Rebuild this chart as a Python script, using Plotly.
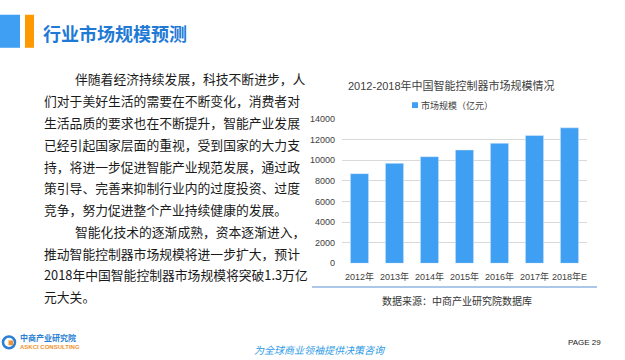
import plotly.graph_objects as go

W, H = 625, 360

years = ["2012年", "2013年", "2014年", "2015年", "2016年", "2017年", "2018年E"]
market_size = [8700, 9700, 10350, 11000, 11650, 12400, 13150]
y_ticks = [0, 2000, 4000, 6000, 8000, 10000, 12000, 14000]

page_title = "行业市场规模预测"
chart_title = "2012-2018年中国智能控制器市场规模情况"
series_name = "市场规模（亿元）"
source_text = "数据来源：中商产业研究院数据库"
body_lines = [
    "伴随着经济持续发展，科技不断进步，人",
    "们对于美好生活的需要在不断变化，消费者对",
    "生活品质的要求也在不断提升，智能产业发展",
    "已经引起国家层面的重视，受到国家的大力支",
    "持，将进一步促进智能产业规范发展，通过政",
    "策引导、完善来抑制行业内的过度投资、过度",
    "竞争，努力促进整个产业持续健康的发展。",
    "智能化技术的逐渐成熟，资本逐渐进入，",
    "推动智能控制器市场规模将进一步扩大，预计",
    "2018年中国智能控制器市场规模将突破1.3万亿",
    "元大关。",
]
body_indent = [True, False, False, False, False, False, False, True, False, False, False]
slogan = "为全球商业领袖提供决策咨询"
page_no = "PAGE 29"

def px(x):
    return x / W

def py(y):
    return 1 - y / H

BLUE = "#3f9ff2"
CJK = "Noto Sans CJK SC"

fig = go.Figure()
fig.add_trace(go.Bar(
    x=years, y=market_size, name=series_name,
    marker=dict(color=BLUE), width=0.52, showlegend=False,
))

fig.update_layout(
    width=W, height=H,
    margin=dict(l=0, r=0, t=0, b=0),
    paper_bgcolor="white", plot_bgcolor="white",
    xaxis=dict(
        domain=[px(342), px(587)],
        tickfont=dict(family="Liberation Sans, " + CJK, size=9, color="#404040"),
        showgrid=False, showline=False, ticks="", ticklabelstandoff=7,
    ),
    yaxis=dict(
        domain=[py(265.7), py(117.3)],
        range=[0, 14000], tickvals=y_ticks, tickformat="d",
        tickfont=dict(family="Liberation Sans", size=9, color="#404040"),
        gridcolor="#d9d9d9", gridwidth=1, zeroline=False,
        showline=False, ticks="", ticklabelstandoff=6,
    ),
    showlegend=False,
    bargap=0.48,
)

anns = []
# page title
anns.append(dict(text="<b>" + page_title + "</b>", x=px(41), y=py(29), xref="paper", yref="paper",
                 xanchor="left", yanchor="middle", showarrow=False,
                 font=dict(family=CJK, size=18, color="#1f7ad6")))
# chart title
anns.append(dict(text=chart_title, x=px(452), y=py(83), xref="paper", yref="paper",
                 xanchor="center", yanchor="middle", showarrow=False,
                 font=dict(family="Liberation Sans, " + CJK, size=11, color="#404040")))
# legend text
anns.append(dict(text=series_name, x=px(419), y=py(103), xref="paper", yref="paper",
                 xanchor="left", yanchor="middle", showarrow=False,
                 font=dict(family=CJK, size=9, color="#404040")))
# source
anns.append(dict(text=source_text, x=px(457), y=py(304), xref="paper", yref="paper",
                 xanchor="center", yanchor="middle", showarrow=False,
                 font=dict(family=CJK, size=10, color="#333333")))
# body text
line_y0, line_dy = 76, 22.4
for i, (line, ind) in enumerate(zip(body_lines, body_indent)):
    anns.append(dict(text=line, x=px(73 if ind else 42), y=py(line_y0 + i * line_dy),
                     xref="paper", yref="paper", xanchor="left", yanchor="middle",
                     showarrow=False,
                     font=dict(family=CJK, size=12.8, color="#1a1a1a")))
# footer
anns.append(dict(text="<b>中商产业研究院</b>", x=px(18), y=py(342), xref="paper", yref="paper",
                 xanchor="left", yanchor="middle", showarrow=False,
                 font=dict(family=CJK, size=8, color="#2a7fd4")))
anns.append(dict(text="<b>ASKCI CONSULTING</b>", x=px(18), y=py(352), xref="paper", yref="paper",
                 xanchor="left", yanchor="middle", showarrow=False,
                 font=dict(family="Liberation Sans", size=6, color="#f0922c")))
anns.append(dict(text="<i>" + slogan + "</i>", x=px(320), y=py(354), xref="paper", yref="paper",
                 xanchor="center", yanchor="middle", showarrow=False,
                 font=dict(family=CJK, size=10, color="#2e9be6")))
anns.append(dict(text=page_no, x=px(603), y=py(347), xref="paper", yref="paper",
                 xanchor="right", yanchor="middle", showarrow=False,
                 font=dict(family="Liberation Sans", size=8, color="#222222")))

shapes = [
    dict(type="rect", xref="paper", yref="paper", x0=px(0), x1=px(20), y0=py(44), y1=py(10),
         fillcolor="#3f9ff2", line=dict(width=0)),
    dict(type="rect", xref="paper", yref="paper", x0=px(25), x1=px(34), y0=py(44), y1=py(10),
         fillcolor="#ff9900", line=dict(width=0)),
    dict(type="line", xref="paper", yref="paper", x0=px(312), x1=px(597), y0=py(290), y1=py(290),
         line=dict(color="#8fb4e3", width=1.5)),
    # legend marker
    dict(type="rect", xref="paper", yref="paper", x0=px(412), x1=px(418), y0=py(106), y1=py(100),
         fillcolor=BLUE, line=dict(width=0)),
    # logo
    dict(type="circle", xref="paper", yref="paper", x0=px(3), x1=px(15), y0=py(353), y1=py(341),
         fillcolor="white", line=dict(color="#2a7fd4", width=2.5)),
    dict(type="rect", xref="paper", yref="paper", x0=px(8.5), x1=px(13), y0=py(350), y1=py(345),
         fillcolor="#f0922c", line=dict(width=0)),
]

fig.update_layout(annotations=anns, shapes=shapes)
fig.write_html("out.html")
